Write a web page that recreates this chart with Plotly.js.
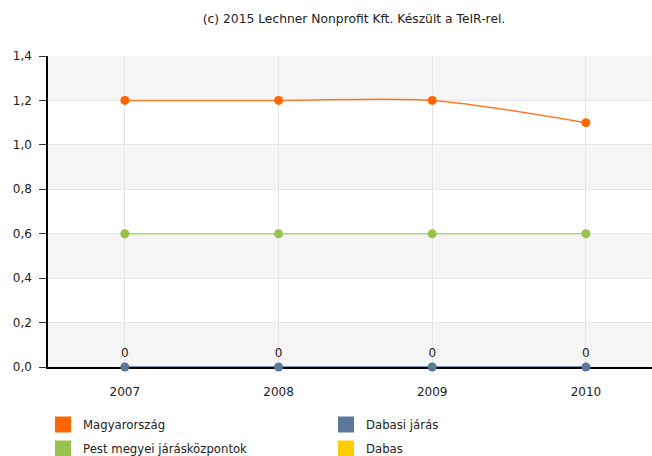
<!DOCTYPE html>
<html>
<head>
<meta charset="utf-8">
<script src="https://cdn.plot.ly/plotly-3.0.1.min.js"></script>
<style>html,body{margin:0;padding:0;background:#fff;}#chart{width:652px;height:456px;}</style>
</head>
<body>
<div id="chart"></div>
<script>
var years = ["2007", "2008", "2009", "2010"];
var magyarorszag = [1.2, 1.2, 1.2, 1.1];
var pestJaraskozpontok = [0.6, 0.6, 0.6, 0.6];
var dabasiJaras = [0, 0, 0, 0];
var dabas = [null, null, null, null];
var seriesNames = ["Magyarország", "Pest megyei járásközpontok", "Dabasi járás", "Dabas"];
var seriesColors = {"Magyarország": "#FF6600", "Dabasi járás": "#5C7899", "Pest megyei járásközpontok": "#99C24D", "Dabas": "#FFCC00"};
var lineColors = {"Magyarország": "#FF7A26", "Dabasi járás": "#5C7899", "Pest megyei járásközpontok": "#B3D47F", "Dabas": "#FFCC00"};
var yTicks = [0, 0.2, 0.4, 0.6, 0.8, 1.0, 1.2, 1.4];
var titleText = "(c) 2015 Lechner Nonprofit Kft. Készült a TeIR-rel.";

var dataMap = {
  "Magyarország": magyarorszag,
  "Dabasi járás": dabasiJaras,
  "Pest megyei járásközpontok": pestJaraskozpontok,
  "Dabas": dabas
};

var traces = [];
["Pest megyei járásközpontok", "Magyarország", "Dabas", "Dabasi járás"].forEach(function(n){
  var isBlue = n === "Dabasi járás";
  traces.push({
    type: "scatter",
    x: years,
    y: dataMap[n],
    name: n,
    mode: isBlue ? "lines+markers+text" : "lines+markers",
    text: isBlue ? dataMap[n].map(function(v){return String(v);}) : undefined,
    textposition: "top center",
    textfont: {family: "DejaVu Sans, Verdana, sans-serif", size: 12, color: "#222"},
    line: {color: lineColors[n], width: 1.5, shape: "spline", smoothing: 0.8},
    marker: {color: seriesColors[n], size: 9},
    cliponaxis: false,
    showlegend: false,
    hoverinfo: "x+y+name"
  });
});
// legend entries (square symbols), two columns
seriesNames.forEach(function(n, i){
  traces.push({
    type: "scatter",
    x: [null], y: [null],
    name: n,
    mode: "markers",
    marker: {color: seriesColors[n], symbol: "square", size: 16},
    showlegend: true,
    legendgroup: "g" + i,
    legend: i < 2 ? "legend" : "legend2"
  });
});

var shapes = [];
for (var i = 0; i < yTicks.length - 1; i += 2) {
  shapes.push({type: "rect", xref: "paper", yref: "y", x0: 0, x1: 1,
    y0: yTicks[i], y1: yTicks[i + 1], fillcolor: "#F5F5F5", line: {width: 0}, layer: "below"});
}
shapes.push({type: "rect", xref: "paper", yref: "y", x0: 0, x1: 1,
    y0: yTicks[yTicks.length - 2], y1: yTicks[yTicks.length - 1], fillcolor: "#F5F5F5", line: {width: 0}, layer: "below"});

var legendCommon = {
  orientation: "v",
  yref: "container", yanchor: "top",
  xref: "container", xanchor: "left",
  font: {size: 11.7, color: "#222"},
  traceorder: "grouped",
  tracegroupgap: 5,
  bgcolor: "rgba(0,0,0,0)"
};
var legend1 = Object.assign({}, legendCommon, {x: 0.066, y: 1 - 410 / 456});
var legend2 = Object.assign({}, legendCommon, {x: 0.5, y: 1 - 410 / 456});

var layout = {
  width: 652, height: 456,
  margin: {l: 48, r: 0, t: 56, b: 89, autoexpand: false},
  paper_bgcolor: "#fff",
  plot_bgcolor: "#fff",
  separators: ", ",
  font: {family: "DejaVu Sans, Verdana, sans-serif", size: 12, color: "#333"},
  title: {text: titleText, font: {size: 12.3, color: "#222"}, x: 0.543, xanchor: "center", y: 0.958, yanchor: "middle"},
  xaxis: {
    type: "category",
    range: [-0.5, 3.43],
    showgrid: true, gridcolor: "#E6E6E6", gridwidth: 1,
    showline: true, linecolor: "#000", linewidth: 1.5,
    ticks: "", tickfont: {size: 12, color: "#222"},
    tickangle: 0,
    ticklabelstandoff: 13,
    layer: "below traces",
    automargin: false,
    zeroline: false, fixedrange: true
  },
  yaxis: {
    range: [0, 1.4],
    tickvals: yTicks,
    tickformat: ".1f",
    showgrid: true, gridcolor: "#E6E6E6", gridwidth: 1,
    showline: true, linecolor: "#000", linewidth: 1.5,
    ticks: "outside", ticklen: 7, tickcolor: "#333",
    tickfont: {size: 12, color: "#222"},
    ticklabelstandoff: 5,
    layer: "below traces",
    automargin: false,
    zeroline: false, fixedrange: true
  },
  shapes: shapes,
  showlegend: true,
  legend: legend1,
  legend2: legend2,
  hovermode: "closest"
};

Plotly.newPlot("chart", traces, layout, {displayModeBar: false});
</script>
</body>
</html>
